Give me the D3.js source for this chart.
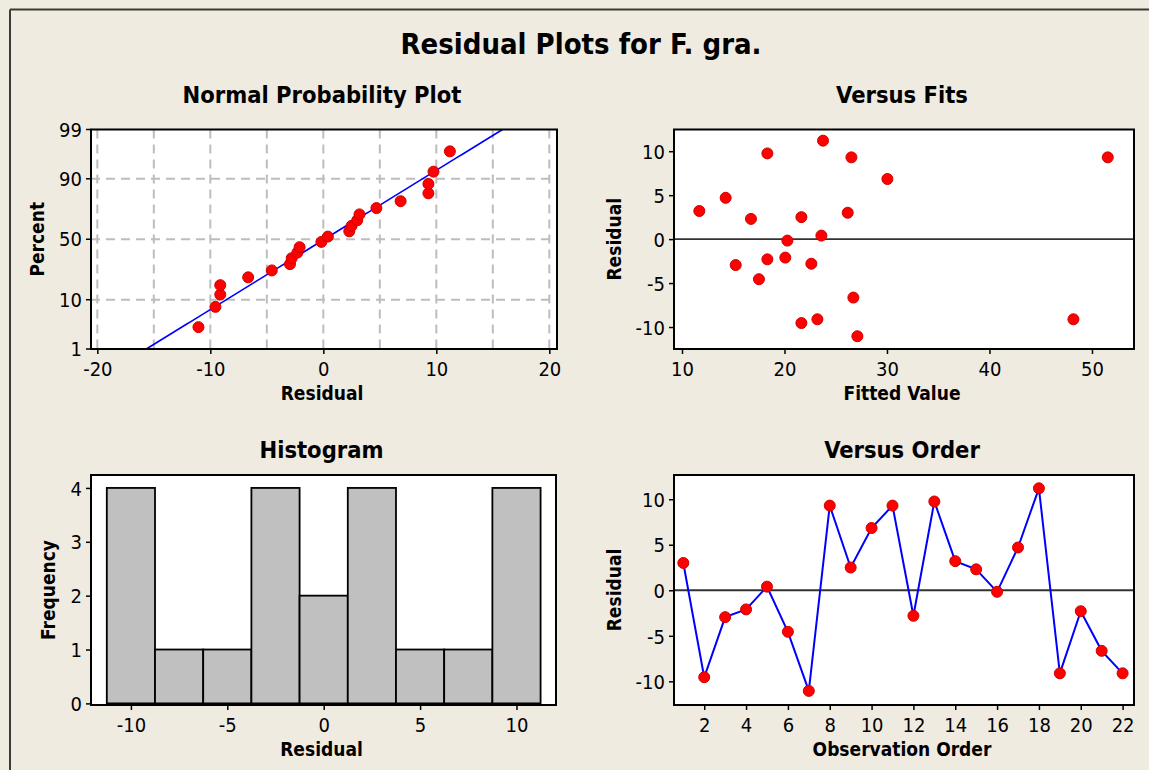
<!DOCTYPE html>
<html>
<head>
<meta charset="utf-8">
<script src="https://cdn.jsdelivr.net/npm/d3@7"></script>
<style>
  html, body { margin: 0; padding: 0; background: #EFEBE1; }
  svg { display: block; }
  text { font-family: "DejaVu Sans Condensed", "DejaVu Sans", sans-serif; fill: #000; }
</style>
</head>
<body>
<svg id="chart" width="1149" height="770"></svg>
<script>
// Residuals in observation order
const residuals = [3.0, -9.55, -2.95, -2.1, 0.4, -4.56, -11.05, 9.3, 2.5, 6.84, 9.3,
                   -2.8, 9.75, 3.2, 2.3, -0.17, 4.7, 11.2, -9.12, -2.3, -6.65, -9.12];
// Fitted values, same order
const fitted = [26.17, 21.65, 15.24, 20.08, 23.6, 17.51, 27.11, 51.54, 21.65, 30.04, 26.53,
                22.62, 18.33, 11.69, 16.73, 20.28, 14.26, 23.76, 23.21, 18.33, 26.72, 48.19];
const observation = d3.range(1, residuals.length + 1);

// Histogram bins
const binCenters = [-10, -7.5, -5, -2.5, 0, 2.5, 5, 7.5, 10];
const binWidth = 2.5;

// Tick labels
const nppPercentTicks = [1, 10, 50, 90, 99];
const nppGridPercents = [10, 50, 90];
const nppResidTicks = [-20, -10, 0, 10, 20];
const nppResidGrid = [-20, -15, -10, -5, 0, 5, 10, 15, 20];
const fitsXTicks = [10, 20, 30, 40, 50];
const residTicks = [-10, -5, 0, 5, 10];
const histXTicks = [-10, -5, 0, 5, 10];
const histYTicks = [0, 1, 2, 3, 4];
const orderTicks = [2, 4, 6, 8, 10, 12, 14, 16, 18, 20, 22];

const svg = d3.select("#chart");
const BLUE = "#0000FF", RED = "#FF0000", BAR = "#C0C0C0";
const TICK_FS = 20, AXT_FS = 19, SUB_FS = 23.5, TITLE_FS = 29;
const FONT = '"DejaVu Sans Condensed", "DejaVu Sans", sans-serif';
const plain = d => String(d);   // hyphen-minus labels

// Inverse standard normal CDF (Acklam)
function qnorm(p) {
  const a = [-3.969683028665376e+01, 2.209460984245205e+02, -2.759285104469687e+02,
             1.383577518672690e+02, -3.066479806614716e+01, 2.506628277459239e+00];
  const b = [-5.447609879822406e+01, 1.615858368580409e+02, -1.556989798598866e+02,
             6.680131188771972e+01, -1.328068155288572e+01];
  const c = [-7.784894002430293e-03, -3.223964580411365e-01, -2.400758277161838e+00,
             -2.549671010208137e+00, 4.374664141464968e+00, 2.938163982698783e+00];
  const d = [7.784695709041462e-03, 3.224671290700398e-01, 2.445134137142996e+00,
             3.754408661907416e+00];
  const pl = 0.02425;
  let q, r;
  if (p < pl) {
    q = Math.sqrt(-2 * Math.log(p));
    return (((((c[0]*q+c[1])*q+c[2])*q+c[3])*q+c[4])*q+c[5]) / ((((d[0]*q+d[1])*q+d[2])*q+d[3])*q+1);
  } else if (p <= 1 - pl) {
    q = p - 0.5; r = q * q;
    return (((((a[0]*r+a[1])*r+a[2])*r+a[3])*r+a[4])*r+a[5])*q / (((((b[0]*r+b[1])*r+b[2])*r+b[3])*r+b[4])*r+1);
  } else {
    q = Math.sqrt(-2 * Math.log(1 - p));
    return -(((((c[0]*q+c[1])*q+c[2])*q+c[3])*q+c[4])*q+c[5]) / ((((d[0]*q+d[1])*q+d[2])*q+d[3])*q+1);
  }
}

// Outer frame
svg.append("line").attr("x1", 10).attr("x2", 1149).attr("y1", 9.5).attr("y2", 9.5)
  .attr("stroke", "#3a3a3a").attr("stroke-width", 2);
svg.append("line").attr("x1", 10).attr("x2", 10).attr("y1", 9.5).attr("y2", 770)
  .attr("stroke", "#3a3a3a").attr("stroke-width", 2);

svg.append("text").attr("x", 581).attr("y", 44).attr("text-anchor", "middle")
  .attr("dy", "0.36em").style("font-size", TITLE_FS + "px").style("font-weight", "bold")
  .text("Residual Plots for F. gra.");

// Panel background, titles and axis titles
function panel(box, opts) {
  const g = svg.append("g");
  g.append("rect").attr("x", box.x0).attr("y", box.y0)
    .attr("width", box.x1 - box.x0).attr("height", box.y1 - box.y0).attr("fill", "#fff");
  const cx = (box.x0 + box.x1) / 2;
  g.append("text").attr("x", cx - 2).attr("y", opts.subY).attr("dy", "0.36em")
    .attr("text-anchor", "middle").style("font-size", SUB_FS + "px").style("font-weight", "bold")
    .text(opts.title);
  g.append("text").attr("x", cx - 2).attr("y", box.y1 + 44).attr("dy", "0.36em")
    .attr("text-anchor", "middle").style("font-size", AXT_FS + "px").style("font-weight", "bold")
    .text(opts.xTitle);
  g.append("text").attr("transform", `translate(${opts.yTitleX},${(box.y0 + box.y1) / 2}) rotate(-90)`)
    .attr("dy", "0.36em").attr("text-anchor", "middle")
    .style("font-size", AXT_FS + "px").style("font-weight", "bold").text(opts.yTitle);
  return g;
}

function styleAxis(a) {
  a.select(".domain").remove();
  a.selectAll(".tick line").attr("stroke", "#000").attr("stroke-width", 1.5);
  a.selectAll(".tick text").style("font-size", TICK_FS + "px").style("font-family", FONT).attr("fill", "#000");
}

function axes(g, box, x, y, xTicks, yTicks) {
  const xa = g.append("g").attr("transform", `translate(0,${box.y1})`)
    .call(d3.axisBottom(x).tickValues(xTicks).tickSize(5).tickPadding(4).tickFormat(plain));
  const ya = g.append("g").attr("transform", `translate(${box.x0},0)`)
    .call(d3.axisLeft(y).tickValues(yTicks).tickSize(5).tickPadding(4).tickFormat(plain));
  styleAxis(xa); styleAxis(ya);
  xa.selectAll(".tick text").attr("dy", "0.92em");
  ya.selectAll(".tick text").attr("dy", "0.36em");
}

function frame(g, box) {
  g.append("rect").attr("x", box.x0).attr("y", box.y0)
    .attr("width", box.x1 - box.x0).attr("height", box.y1 - box.y0)
    .attr("fill", "none").attr("stroke", "#000").attr("stroke-width", 2);
}

function clip(id, box) {
  svg.append("clipPath").attr("id", id).append("rect")
    .attr("x", box.x0).attr("y", box.y0).attr("width", box.x1 - box.x0).attr("height", box.y1 - box.y0);
}

function dots(g, pts) {
  g.selectAll(null).data(pts).join("circle")
    .attr("cx", d => d[0]).attr("cy", d => d[1]).attr("r", 5.5)
    .attr("fill", RED).attr("stroke", "#d00000").attr("stroke-width", 1);
}

// ---------- Normal Probability Plot ----------
{
  const box = { x0: 91, x1: 557, y0: 129.5, y1: 349 };
  const g = panel(box, { title: "Normal Probability Plot", subY: 95, xTitle: "Residual", yTitle: "Percent", yTitleX: 37 });
  const x = d3.scaleLinear().domain([-20.56, 20.68]).range([box.x0, box.x1]);
  const zMax = qnorm(0.99);
  const y = d3.scaleLinear().domain([-zMax, zMax]).range([box.y1, box.y0]);
  const yp = p => y(qnorm(p / 100));

  g.selectAll(null).data(nppResidGrid).join("line")
    .attr("x1", d => x(d)).attr("x2", d => x(d)).attr("y1", box.y0).attr("y2", box.y1)
    .attr("stroke", "#BDBDBD").attr("stroke-width", 2).attr("stroke-dasharray", "9,6");
  g.selectAll(null).data(nppGridPercents).join("line")
    .attr("x1", box.x0).attr("x2", box.x1).attr("y1", d => yp(d)).attr("y2", d => yp(d))
    .attr("stroke", "#BDBDBD").attr("stroke-width", 2).attr("stroke-dasharray", "9,6");

  // fitted normal line from the residuals' mean and standard deviation
  const n = residuals.length;
  const mean = d3.mean(residuals), sd = d3.deviation(residuals);
  clip("clipNpp", box);
  const zs = d3.range(-zMax, zMax + 1e-9, zMax / 40);
  g.append("path").attr("clip-path", "url(#clipNpp)")
    .attr("d", d3.line().x(z => x(mean + sd * z)).y(z => y(z))(zs))
    .attr("fill", "none").attr("stroke", BLUE).attr("stroke-width", 1.6);

  // median-rank plotting positions
  const sorted = residuals.slice().sort(d3.ascending);
  dots(g, sorted.map((r, i) => [x(r), y(qnorm((i + 1 - 0.3) / (n + 0.4)))]));

  frame(g, box);
  const xa = g.append("g").attr("transform", `translate(0,${box.y1})`)
    .call(d3.axisBottom(x).tickValues(nppResidTicks).tickSize(5).tickPadding(4).tickFormat(plain));
  styleAxis(xa);
  xa.selectAll(".tick text").attr("dy", "0.92em");

  // percent axis on the probability scale
  const ya = g.append("g");
  ya.selectAll(null).data(nppPercentTicks).join("line")
    .attr("x1", box.x0 - 5).attr("x2", box.x0).attr("y1", d => yp(d)).attr("y2", d => yp(d))
    .attr("stroke", "#000").attr("stroke-width", 1.5);
  ya.selectAll(null).data(nppPercentTicks).join("text")
    .attr("x", box.x0 - 9).attr("y", d => yp(d)).attr("dy", "0.36em")
    .attr("text-anchor", "end").style("font-size", TICK_FS + "px").text(plain);
}

// ---------- Versus Fits ----------
{
  const box = { x0: 674, x1: 1134, y0: 129.5, y1: 349 };
  const g = panel(box, { title: "Versus Fits", subY: 95, xTitle: "Fitted Value", yTitle: "Residual", yTitleX: 614 });
  const x = d3.scaleLinear().domain([9.22, 54.1]).range([box.x0, box.x1]);
  const y = d3.scaleLinear().domain([-12.5, 12.47]).range([box.y1, box.y0]);
  g.append("line").attr("x1", box.x0).attr("x2", box.x1).attr("y1", y(0)).attr("y2", y(0))
    .attr("stroke", "#333").attr("stroke-width", 1.8);
  dots(g, residuals.map((r, i) => [x(fitted[i]), y(r)]));
  frame(g, box);
  axes(g, box, x, y, fitsXTicks, residTicks);
}

// ---------- Histogram ----------
{
  const box = { x0: 91, x1: 556, y0: 475, y1: 705 };
  const g = panel(box, { title: "Histogram", subY: 450, xTitle: "Residual", yTitle: "Frequency", yTitleX: 48 });
  const x = d3.scaleLinear().domain([-12.07, 12.05]).range([box.x0, box.x1]);
  const y = d3.scaleLinear().domain([-0.03, 4.24]).range([box.y1, box.y0]);
  const edges = binCenters.map(c => c - binWidth / 2).concat([binCenters[binCenters.length - 1] + binWidth / 2]);
  const bins = d3.bin().domain([edges[0], edges[edges.length - 1]]).thresholds(edges.slice(1, -1))(residuals);
  g.selectAll(null).data(bins).join("rect")
    .attr("x", d => x(d.x0)).attr("width", d => x(d.x1) - x(d.x0))
    .attr("y", d => y(d.length)).attr("height", d => y(0) - y(d.length))
    .attr("fill", BAR).attr("stroke", "#000").attr("stroke-width", 1.8);
  frame(g, box);
  axes(g, box, x, y, histXTicks, histYTicks);
}

// ---------- Versus Order ----------
{
  const box = { x0: 674, x1: 1134, y0: 475, y1: 705 };
  const g = panel(box, { title: "Versus Order", subY: 450, xTitle: "Observation Order", yTitle: "Residual", yTitleX: 614 });
  const x = d3.scaleLinear().domain([0.555, 22.545]).range([box.x0, box.x1]);
  const y = d3.scaleLinear().domain([-12.6, 12.66]).range([box.y1, box.y0]);
  g.append("line").attr("x1", box.x0).attr("x2", box.x1).attr("y1", y(0)).attr("y2", y(0))
    .attr("stroke", "#333").attr("stroke-width", 1.8);
  g.append("path").attr("d", d3.line().x((d, i) => x(observation[i])).y(d => y(d))(residuals))
    .attr("fill", "none").attr("stroke", BLUE).attr("stroke-width", 2);
  dots(g, residuals.map((r, i) => [x(observation[i]), y(r)]));
  frame(g, box);
  axes(g, box, x, y, orderTicks, residTicks);
}
</script>
</body>
</html>
